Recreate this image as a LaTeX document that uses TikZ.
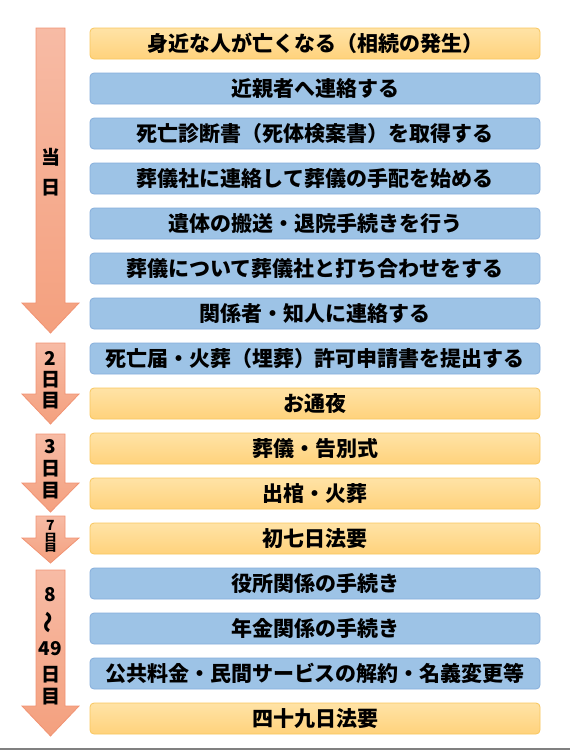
\documentclass[tikz,border=0pt]{standalone}
\usepackage{fontspec}
\setmainfont{Noto Sans CJK JP}

\definecolor{yellowtop}{HTML}{FFE3A6}
\definecolor{yellowbot}{HTML}{FFD27C}
\definecolor{yellowline}{HTML}{F8C65E}
\definecolor{bluefill}{HTML}{9DC3E6}
\definecolor{blueline}{HTML}{86AEDB}
\definecolor{arrowtop}{HTML}{F7BBA5}
\definecolor{arrowbot}{HTML}{F4A07E}
\definecolor{arrowline}{HTML}{F19373}

\tikzset{
    stepbox/.style={rounded corners=4pt, minimum width=450pt, minimum height=31pt,
        inner sep=0pt, line width=0.8pt, font=\fontsize{21}{21}\selectfont\bfseries},
    yellowbox/.style={stepbox, draw=yellowline, top color=yellowtop, bottom color=yellowbot},
    bluebox/.style={stepbox, draw=blueline, fill=bluefill},
    dayarrow/.style={draw=arrowline, line width=0.8pt, top color=arrowtop, bottom color=arrowbot},
    daylabel/.style={inner sep=0pt, font=\fontsize{19}{19}\selectfont\bfseries}
}

\begin{document}
\begin{tikzpicture}[x=1pt,y=-1pt]
    \useasboundingbox (0,0) rectangle (570,750);

    % day arrows
    \draw[dayarrow] (36,28) -- (65,28) -- (65,303) -- (79,303) -- (50.5,333) -- (22,303) -- (36,303) -- cycle;
    \draw[dayarrow] (36,343) -- (65,343) -- (65,394) -- (79,394) -- (50.5,424) -- (22,394) -- (36,394) -- cycle;
    \draw[dayarrow] (36,434) -- (65,434) -- (65,483) -- (79,483) -- (50.5,512) -- (22,483) -- (36,483) -- cycle;
    \draw[dayarrow] (36,516) -- (65,516) -- (65,538) -- (79,538) -- (50.5,563) -- (22,538) -- (36,538) -- cycle;
    \draw[dayarrow] (36,570) -- (65,570) -- (65,706) -- (79,706) -- (50.5,736) -- (22,706) -- (36,706) -- cycle;

    % day labels
    \node[daylabel] (d1a) at (50.5,157) {当};
    \node[daylabel] (d1b) at (50.5,188) {日};

    \node[daylabel] (d2a) at (50.5,358) {2};
    \node[daylabel] (d2b) at (50.5,380) {日};
    \node[daylabel] (d2c) at (50.5,401) {目};

    \node[daylabel] (d3a) at (50.5,447) {3};
    \node[daylabel] (d3b) at (50.5,469) {日};
    \node[daylabel] (d3c) at (50.5,491) {目};

    \node[daylabel, font=\fontsize{14}{14}\selectfont\bfseries] (d7a) at (50.5,525) {7};
    \node[daylabel, font=\fontsize{13}{13}\selectfont\bfseries, yscale=0.8, transform shape] (d7b) at (50.5,537.5) {日};
    \node[daylabel, font=\fontsize{13}{13}\selectfont\bfseries, yscale=0.8, transform shape] (d7c) at (50.5,548) {目};

    \node[daylabel] (d8a) at (50.5,595) {8};
    \node[daylabel, rotate=90, font=\fontsize{22}{22}\selectfont\bfseries] (d8b) at (50.5,622) {〜};
    \node[daylabel] (d8c) at (50.5,649) {49};
    \node[daylabel] (d8d) at (50.5,675) {日};
    \node[daylabel] (d8e) at (50.5,697) {目};

    % steps
    \node[yellowbox] (death)    at (315,43.5)  {身近な人が亡くなる（相続の発生）};
    \node[bluebox]   (kin)      at (315,88.5)  {近親者へ連絡する};
    \node[bluebox]   (cert)     at (315,133.5) {死亡診断書（死体検案書）を取得する};
    \node[bluebox]   (funhome)  at (315,178.5) {葬儀社に連絡して葬儀の手配を始める};
    \node[bluebox]   (transfer) at (315,223.5) {遺体の搬送・退院手続きを行う};
    \node[bluebox]   (plan)     at (315,268.5) {葬儀について葬儀社と打ち合わせをする};
    \node[bluebox]   (notify)   at (315,313.5) {関係者・知人に連絡する};
    \node[bluebox]   (permit)   at (315,358.5) {死亡届・火葬（埋葬）許可申請書を提出する};
    \node[yellowbox] (wake)     at (315,403.5) {お通夜};
    \node[yellowbox] (funeral)  at (315,448.5) {葬儀・告別式};
    \node[yellowbox] (cremate)  at (315,493.5) {出棺・火葬};
    \node[yellowbox] (seventh)  at (315,538.5) {初七日法要};
    \node[bluebox]   (office)   at (315,583.5) {役所関係の手続き};
    \node[bluebox]   (pension)  at (315,628.5) {年金関係の手続き};
    \node[bluebox]   (utility)  at (315,673.5) {公共料金・民間サービスの解約・名義変更等};
    \node[yellowbox] (fortynine) at (315,718.5) {四十九日法要};

    \draw[gray, line width=2pt] (0,749) -- (570,749);
\end{tikzpicture}
\end{document}
